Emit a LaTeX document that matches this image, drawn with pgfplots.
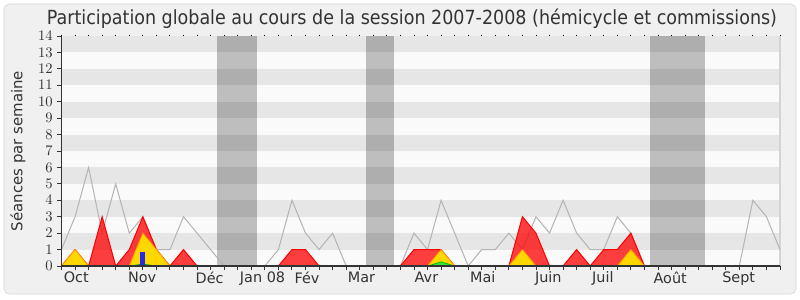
\documentclass[border=0pt]{standalone}
\usepackage{pgfplots}
\pgfplotsset{compat=1.18}
\usepackage{pgfplotstable}
\usepackage{fontspec}
\setmainfont{DejaVu Sans}
\newfontfamily\titlefont{DejaVu Sans Condensed}
\definecolor{bgout}{HTML}{F0F0F0}
\definecolor{border}{HTML}{D4D4D4}
\definecolor{stripeD}{HTML}{E6E6E6}
\definecolor{stripeL}{HTML}{FAFAFA}
\definecolor{tot}{HTML}{B4B4B4}
\definecolor{txt}{HTML}{333333}
\definecolor{gold}{HTML}{FFD700}
\definecolor{yedge}{HTML}{FFA000}
\definecolor{bluebar}{HTML}{2828E6}
\definecolor{grn}{HTML}{33E633}

\pgfplotstableread{
w v
0 1
1 3
2 6
3 2
4 5
5 2
6 3
7 1
8 1
9 3
10 2
11 1
12 0
13 0
14 0
15 0
16 1
17 4
18 2
19 1
20 2
21 0
22 0
23 0
24 0
25 0
26 2
27 1
28 4
29 2
30 0
31 1
32 1
33 2
34 1
35 3
36 2
37 4
38 2
39 1
40 1
41 3
42 2
43 0
44 0
45 0
46 0
47 0
48 0
49 0
50 0
51 4
52 3
53 1
}\total

\pgfplotstableread{
w v
0 0
1 1
2 0
3 3
4 0
5 1
6 3
7 1
8 0
9 1
10 0
16 0
17 1
18 1
19 0
25 0
26 1
27 1
28 1
29 0
33 0
34 3
35 2
36 0
37 0
38 1
39 0
40 1
41 1
42 2
43 0
53 0
}\red

\pgfplotstableread{
w v
0 0
1 1
2 0
5 0
6 2
7 1
8 0
27 0
28 1
29 0
33 0
34 1
35 0
41 0
42 1
43 0
53 0
}\yel

\pgfplotstableread{
w v
0 0
5 0
6 0.12
7 0
27 0
28 0.25
29 0
53 0
}\grn

\begin{document}
\begin{tikzpicture}[x=1pt,y=1pt]
\fill[white] (-46.125,-25.5) rectangle (553.875,199.5);
\filldraw[fill=bgout, draw=border, rounded corners=4pt] (-43.125,-21) rectangle (550.875,196.5);
\path[use as bounding box] (-46.125,-25.5) rectangle (553.875,199.5);
\begin{axis}[
  at={(0,0)}, anchor=south west,
  scale only axis, width=538.875pt, height=172.5pt,
  xmin=0, xmax=53, ymin=0, ymax=14,
  axis on top,
  axis x line*=bottom, axis y line*=left,
  axis line style={draw=txt, line width=0.8pt},
  xtick={0,...,53}, xticklabels={},
  ytick={0,...,14},
  tick align=outside, major tick length=3pt,
  tick style={draw=txt, line width=0.7pt},
  tick label style={font=\fontsize{10.8}{12}\selectfont, text=txt},
  extra x ticks={1.09,5.95,10.93,14.83,18.11,22.13,26.92,31.08,35.91,39.93,44.9,49.95},
  extra x tick labels={Oct,Nov,Déc,Jan 08,Fév,Mar,Avr,Mai,Juin,Juil,Août,Sept},
  extra x tick style={major tick length=0pt, tick label style={yshift=-1pt}},
  clip=false,
]
\fill[stripeL] (axis cs:0,0) rectangle (axis cs:53,14);
\fill[stripeD] (axis cs:0,1) rectangle (axis cs:53,2);
\fill[stripeD] (axis cs:0,3) rectangle (axis cs:53,4);
\fill[stripeD] (axis cs:0,5) rectangle (axis cs:53,6);
\fill[stripeD] (axis cs:0,7) rectangle (axis cs:53,8);
\fill[stripeD] (axis cs:0,9) rectangle (axis cs:53,10);
\fill[stripeD] (axis cs:0,11) rectangle (axis cs:53,12);
\fill[stripeD] (axis cs:0,13) rectangle (axis cs:53,14);
\fill[black, opacity=0.24] (axis cs:11.44,0) rectangle (axis cs:14.44,14);
\fill[black, opacity=0.24] (axis cs:22.43,0) rectangle (axis cs:24.49,14);
\fill[black, opacity=0.24] (axis cs:43.43,0) rectangle (axis cs:47.46,14);
\draw[border, line width=0.8pt] (axis cs:53,0) -- (axis cs:53,14);
\addplot[color=tot, line width=0.75pt] table[x=w,y=v] {\total};
\addplot[draw=red, fill=red, fill opacity=0.75, line width=0.75pt] table[x=w,y=v] {\red} \closedcycle;
\addplot[draw=yedge, fill=gold, line width=0.6pt] table[x=w,y=v] {\yel} \closedcycle;
\addplot[draw=green!70!black, fill=grn, line width=0.5pt] table[x=w,y=v] {\grn} \closedcycle;
\addplot[ybar, bar width=3.75pt, fill=bluebar, draw=none] coordinates {(6,0.85)};
\end{axis}
\begin{axis}[
  at={(0,0)}, anchor=south west,
  scale only axis, width=538.875pt, height=172.5pt,
  xmin=0, xmax=53, ymin=0, ymax=14,
  axis x line*=top, axis y line=none,
  axis line style={draw=none},
  xtick={0,...,53}, xticklabels={},
  tick align=outside, major tick length=1.1pt,
  tick style={draw=black, line width=0.7pt},
]
\addplot[draw=none] coordinates {(0,0)};
\end{axis}
\node[font=\titlefont\fontsize{14.6}{17}\selectfont, text=txt] at (262.9,185.25) {Participation globale au cours de la session 2007-2008 (hémicycle et commissions)};
\node[rotate=90, font=\fontsize{11.2}{13}\selectfont, text=txt] at (-32.6,86.25) {Séances par semaine};
\end{tikzpicture}
\end{document}
